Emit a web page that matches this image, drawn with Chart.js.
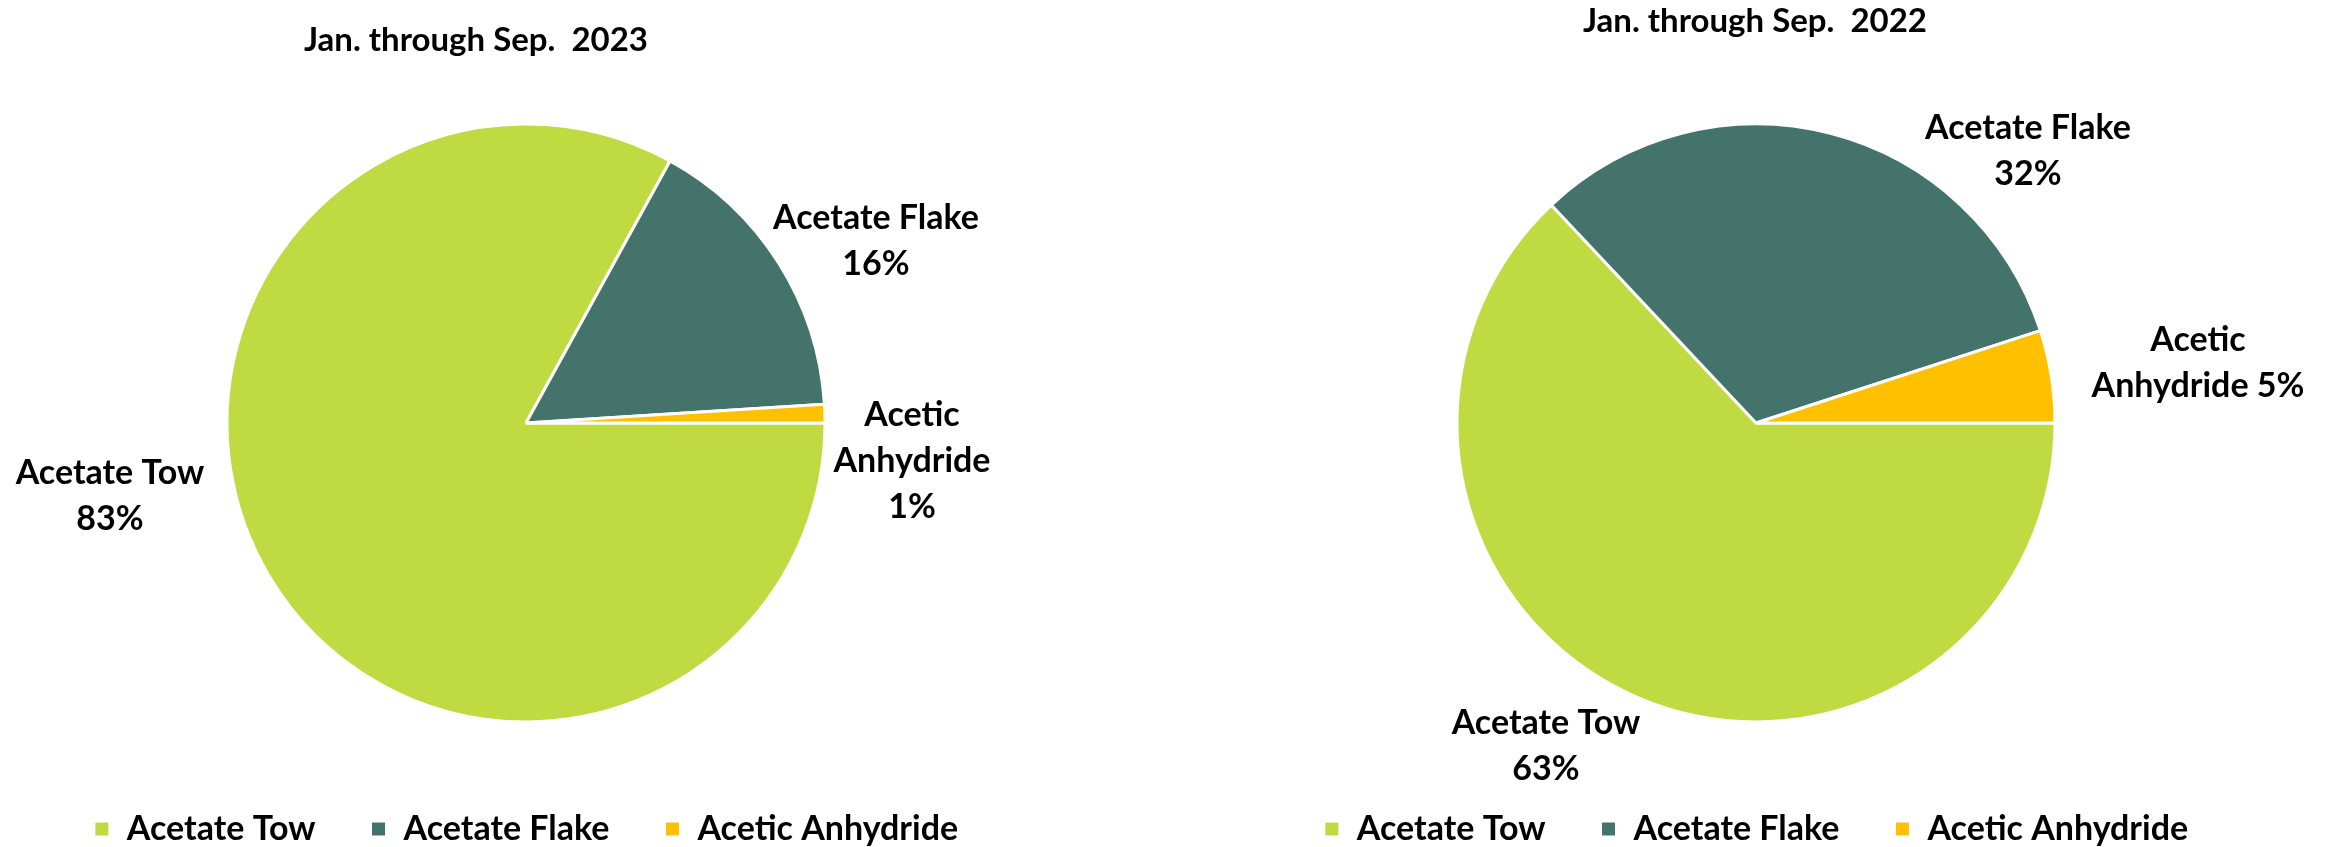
<!DOCTYPE html>
<html>
<head>
<meta charset="utf-8">
<script src="https://cdn.jsdelivr.net/npm/chart.js@4/dist/chart.umd.min.js"></script>
<style>
    body { margin: 0; background: #fff; overflow: hidden; width: 2331px; height: 847px; position: relative; }
    canvas { position: absolute; top: 0; }
    #grafico-2023 { left: -4px; }
    #grafico-2022 { left: 1226px; }
</style>
</head>
<body>
<canvas id="grafico-2023" width="1060" height="856"></canvas>
<canvas id="grafico-2022" width="1105" height="856"></canvas>
<script>
const categorias = ["Acetate Tow", "Acetate Flake", "Acetic Anhydride"];
const valores2023 = [83, 16, 1];
const valores2022 = [63, 32, 5];
const titulo2023 = "Jan. through Sep.  2023";
const titulo2022 = "Jan. through Sep.  2022";

const cores = ["#c0da41", "#44736b", "#ffc000"];
const FONTE = "bold 34px Lato";
const FONTE_TITULO = "bold 33px Lato";
const ALTURA_LINHA = 46;

// where each data label sits relative to the pie centre, and words per line
const rotulos2023 = [
    { dx: -416, dy: 73, linhas: [2, 1] },
    { dx: 350, dy: -182, linhas: [2, 1] },
    { dx: 386, dy: 38, linhas: [1, 1, 1] }
];
const rotulos2022 = [
    { dx: -210, dy: 323, linhas: [2, 1] },
    { dx: 272, dy: -272, linhas: [2, 1] },
    { dx: 442, dy: -60, linhas: [1, 2] }
];

const rotulosPlugin = {
    id: "rotulos",
    afterDraw(chart, args, opts) {
        const ctx = chart.ctx;
        const arcos = chart.getDatasetMeta(0).data;
        const valores = chart.data.datasets[0].data;
        const cx = arcos[0].x;
        const cy = arcos[0].y;
        ctx.save();
        ctx.fillStyle = "#000";
        ctx.textAlign = "center";
        ctx.textBaseline = "middle";
        ctx.font = FONTE_TITULO;
        ctx.fillText(opts.titulo, cx + opts.tituloDx, opts.tituloY);
        ctx.font = FONTE;
        arcos.forEach((arco, i) => {
            const pos = opts.rotulos[i];
            const palavras = categorias[i].split(" ").concat(valores[i] + "%");
            let k = 0;
            const linhas = pos.linhas.map(n => {
                const linha = palavras.slice(k, k + n).join(" ");
                k += n;
                return linha;
            });
            const y0 = cy + pos.dy - (linhas.length - 1) * ALTURA_LINHA / 2;
            linhas.forEach((linha, j) => ctx.fillText(linha, cx + pos.dx, y0 + j * ALTURA_LINHA));
        });
        ctx.restore();
    }
};

function criarGrafico(id, valores, titulo, tituloDx, tituloY, rotulos, folgaDireita) {
    const ctx = document.getElementById(id).getContext("2d");
    return new Chart(ctx, {
        type: "pie",
        data: {
            labels: categorias,
            datasets: [{
                data: valores,
                backgroundColor: cores,
                borderColor: "#fff",
                borderWidth: 3
            }]
        },
        options: {
            responsive: false,
            animation: false,
            rotation: 90,
            radius: 299,
            layout: { padding: { top: 89, bottom: 0, right: folgaDireita } },
            plugins: {
                legend: {
                    position: "bottom",
                    labels: {
                        color: "#000",
                        font: { family: "Lato", weight: "bold", size: 34 },
                        boxWidth: 16,
                        boxHeight: 16,
                        padding: 55
                    }
                },
                tooltip: { enabled: false },
                rotulos: { titulo: titulo, tituloDx: tituloDx, tituloY: tituloY, rotulos: rotulos }
            }
        },
        plugins: [rotulosPlugin]
    });
}

Promise.all([document.fonts.load(FONTE), document.fonts.load(FONTE_TITULO)]).then(() => {
    criarGrafico("grafico-2023", valores2023, titulo2023, -50, 40, rotulos2023, 0);
    criarGrafico("grafico-2022", valores2022, titulo2022, -1, 21, rotulos2022, 45);
});
</script>
</body>
</html>
